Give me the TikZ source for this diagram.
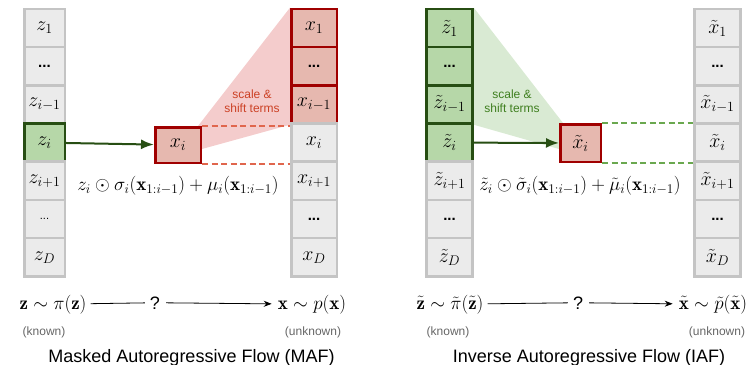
\RequirePackage{fix-cm}
\documentclass[tikz,border=0pt]{standalone}
\usepackage{amstext,amssymb,amsmath}
\usepackage{fontspec}
\setsansfont{Liberation Sans}
\usepackage{tikz}
\usetikzlibrary{arrows.meta}
\usetikzlibrary{backgrounds}
\definecolor{hellgrau}{HTML}{EBEBEB}
\definecolor{randgrau}{HTML}{C4C4C4}
\definecolor{gruen}{HTML}{B6D7A8}
\definecolor{dunkelgruen}{HTML}{274E13}
\definecolor{blassgruen}{HTML}{D9EAD3}
\definecolor{strichgruen}{HTML}{6AA84F}
\definecolor{textgruen}{HTML}{3F7F1F}
\definecolor{rot}{HTML}{E6B8AF}
\definecolor{dunkelrot}{HTML}{A00000}
\definecolor{rosa}{HTML}{F4CCCC}
\definecolor{strichrot}{HTML}{E0664D}
\definecolor{textrot}{HTML}{CC4125}
\newcommand{\punkte}{{\sffamily\bfseries\fontsize{15}{15}\selectfont ...}}

\begin{document}
\begin{tikzpicture}
     [
     x=1pt, y=-1pt,
     zelle/.style = {draw=randgrau, fill=hellgrau, line width=2.5pt, inner sep=0pt,
       minimum height=38.2pt, minimum width=#1, font=\fontsize{20}{22}\selectfont},
     zelle/.default = 46pt,
     gzelle/.style = {zelle=#1, draw=dunkelgruen, fill=gruen},
     gzelle/.default = 46pt,
     rzelle/.style = {zelle=#1, draw=dunkelrot, fill=rot},
     rzelle/.default = 46pt,
     formel/.style = {font=\fontsize{19}{21}\selectfont, inner sep=2pt},
     hinweis/.style = {font=\sffamily\fontsize{12}{13}\selectfont, text=black!60, anchor=base},
     titel/.style = {font=\sffamily\fontsize{18}{20}\selectfont, anchor=base},
     strich/.style = {dash pattern=on 6pt off 3.5pt, line width=1.5pt},
     pfeil/.style = {dunkelgruen, line width=2pt, -{Latex[length=13pt,width=10pt]}}
     ]

     \useasboundingbox (0,0) rectangle (754,364);

     % MAF
     \draw (44.5,28) node[zelle=40.5pt] (z1) {$z_1$}
           (44.5,66.2) node[zelle=40.5pt] (za) {\punkte}
           (44.5,104.4) node[zelle=40.5pt] (zim) {$z_{i-1}$}
           (44.5,142.6) node[gzelle=40.5pt] (zi) {$z_i$}
           (44.5,180.8) node[zelle=40.5pt] (zip) {$z_{i+1}$}
           (44.5,219) node[zelle=40.5pt] (zb) {{\sffamily\fontsize{11}{11}\selectfont ...}}
           (44.5,257.2) node[zelle=40.5pt] (zD) {$z_D$}
     ;
     \draw (314,28) node[rzelle=45.5pt] (x1) {$x_1$}
           (314,66.2) node[rzelle=45.5pt] (xa) {\punkte}
           (314,104.4) node[rzelle=45.5pt] (xim) {$x_{i-1}$}
           (314,142.6) node[zelle=45.5pt] (xii) {$x_i$}
           (314,180.8) node[zelle=45.5pt] (xip) {$x_{i+1}$}
           (314,219) node[zelle=45.5pt] (xb) {\punkte}
           (314,257.2) node[zelle=45.5pt] (xD) {$x_D$}
     ;
     \draw (178,145) node[rzelle=45.5pt, minimum height=35.5pt] (xi) {$x_i$};

     \begin{scope}[on background layer]
       \fill[rosa] ([xshift=-4pt]xi.north east) -- (x1.north west) -- (xim.south west)
         -- ([yshift=-4pt]xi.east) -- cycle;
     \end{scope}
     \draw[strich, strichrot] (xi.north east) -- (xi.north east -| xii.west)
                              (xi.south east) -- (xi.south east -| xii.west);
     \draw[pfeil] (zi) -- (xi);

     \path (252,101) node[textrot, font=\sffamily\fontsize{12}{14}\selectfont, align=center] (sst)
           {scale \&\\shift terms};
     \path (178,186) node[formel] (fmaf)
           {$z_i \odot \sigma_i(\mathbf{x}_{1:i-1}) + \mu_i(\mathbf{x}_{1:i-1})$};

     \path (53,309) node[formel, anchor=base] (pz) {$\mathbf{z} \sim \pi(\mathbf{z})$}
           (155,309) node[formel, anchor=base, font=\sffamily\fontsize{18}{20}\selectfont] (frage) {?}
           (312,309) node[formel, anchor=base] (px) {$\mathbf{x} \sim p(\mathbf{x})$};
     \draw[line width=0.8pt, shorten <=2pt, shorten >=3pt] (pz) -- (frage);
     \draw[line width=0.8pt, shorten <=4pt, shorten >=4pt, -{Stealth[length=8pt,width=6pt]}] (frage) -- (px);
     \path (44,335) node[hinweis] (bek) {(known)}
           (313,335) node[hinweis] (unbek) {(unknown)}
           (191.5,362) node[titel] (tmaf) {Masked Autoregressive Flow (MAF)};

     % IAF
     \draw (449.5,28) node[gzelle] (tz1) {$\tilde{z}_1$}
           (449.5,66.2) node[gzelle] (tza) {\punkte}
           (449.5,104.4) node[gzelle] (tzim) {$\tilde{z}_{i-1}$}
           (449.5,142.6) node[gzelle] (tzi) {$\tilde{z}_i$}
           (449.5,180.8) node[zelle] (tzip) {$\tilde{z}_{i+1}$}
           (449.5,219) node[zelle] (tzb) {\punkte}
           (449.5,257.2) node[zelle] (tzD) {$\tilde{z}_D$}
     ;
     \draw (717.5,28) node[zelle] (tx1) {$\tilde{x}_1$}
           (717.5,66.2) node[zelle] (txa) {\punkte}
           (717.5,104.4) node[zelle] (txim) {$\tilde{x}_{i-1}$}
           (717.5,142.6) node[zelle] (txii) {$\tilde{x}_i$}
           (717.5,180.8) node[zelle] (txip) {$\tilde{x}_{i+1}$}
           (717.5,219) node[zelle] (txb) {\punkte}
           (717.5,257.2) node[zelle] (txD) {$\tilde{x}_D$}
     ;
     \draw (580.5,143) node[rzelle=40.5pt, minimum height=37.5pt] (txi) {$\tilde{x}_i$};

     \begin{scope}[on background layer]
       \fill[blassgruen] (tz1.north east) -- ([xshift=4pt]txi.north west)
         -- ([yshift=-6pt]txi.west) -- (tzim.south east) -- cycle;
     \end{scope}
     \draw[strich, strichgruen] (txi.north east) -- (txi.north east -| txii.west)
                                (txi.south east) -- (txi.south east -| txii.west);
     \draw[pfeil] (tzi) -- (txi);

     \path (512,101) node[textgruen, font=\sffamily\fontsize{12}{14}\selectfont, align=center] (tsst)
           {scale \&\\shift terms};
     \path (580,186) node[formel] (fiaf)
           {$\tilde{z}_i \odot \tilde{\sigma}_i(\mathbf{x}_{1:i-1}) + \tilde{\mu}_i(\mathbf{x}_{1:i-1})$};

     \path (450,309) node[formel, anchor=base] (tpz) {$\tilde{\mathbf{z}} \sim \tilde{\pi}(\tilde{\mathbf{z}})$}
           (578,309) node[formel, anchor=base, font=\sffamily\fontsize{18}{20}\selectfont] (tfrage) {?}
           (713,309) node[formel, anchor=base] (tpx) {$\tilde{\mathbf{x}} \sim \tilde{p}(\tilde{\mathbf{x}})$};
     \draw[line width=0.8pt, shorten <=2pt, shorten >=3pt] (tpz) -- (tfrage);
     \draw[line width=0.8pt, shorten <=4pt, shorten >=4pt, -{Stealth[length=8pt,width=6pt]}] (tfrage) -- (tpx);
     \path (448,335) node[hinweis] (tbek) {(known)}
           (717,335) node[hinweis] (tunbek) {(unknown)}
           (589,362) node[titel] (tiaf) {Inverse Autoregressive Flow (IAF)};
\end{tikzpicture}
\end{document}
